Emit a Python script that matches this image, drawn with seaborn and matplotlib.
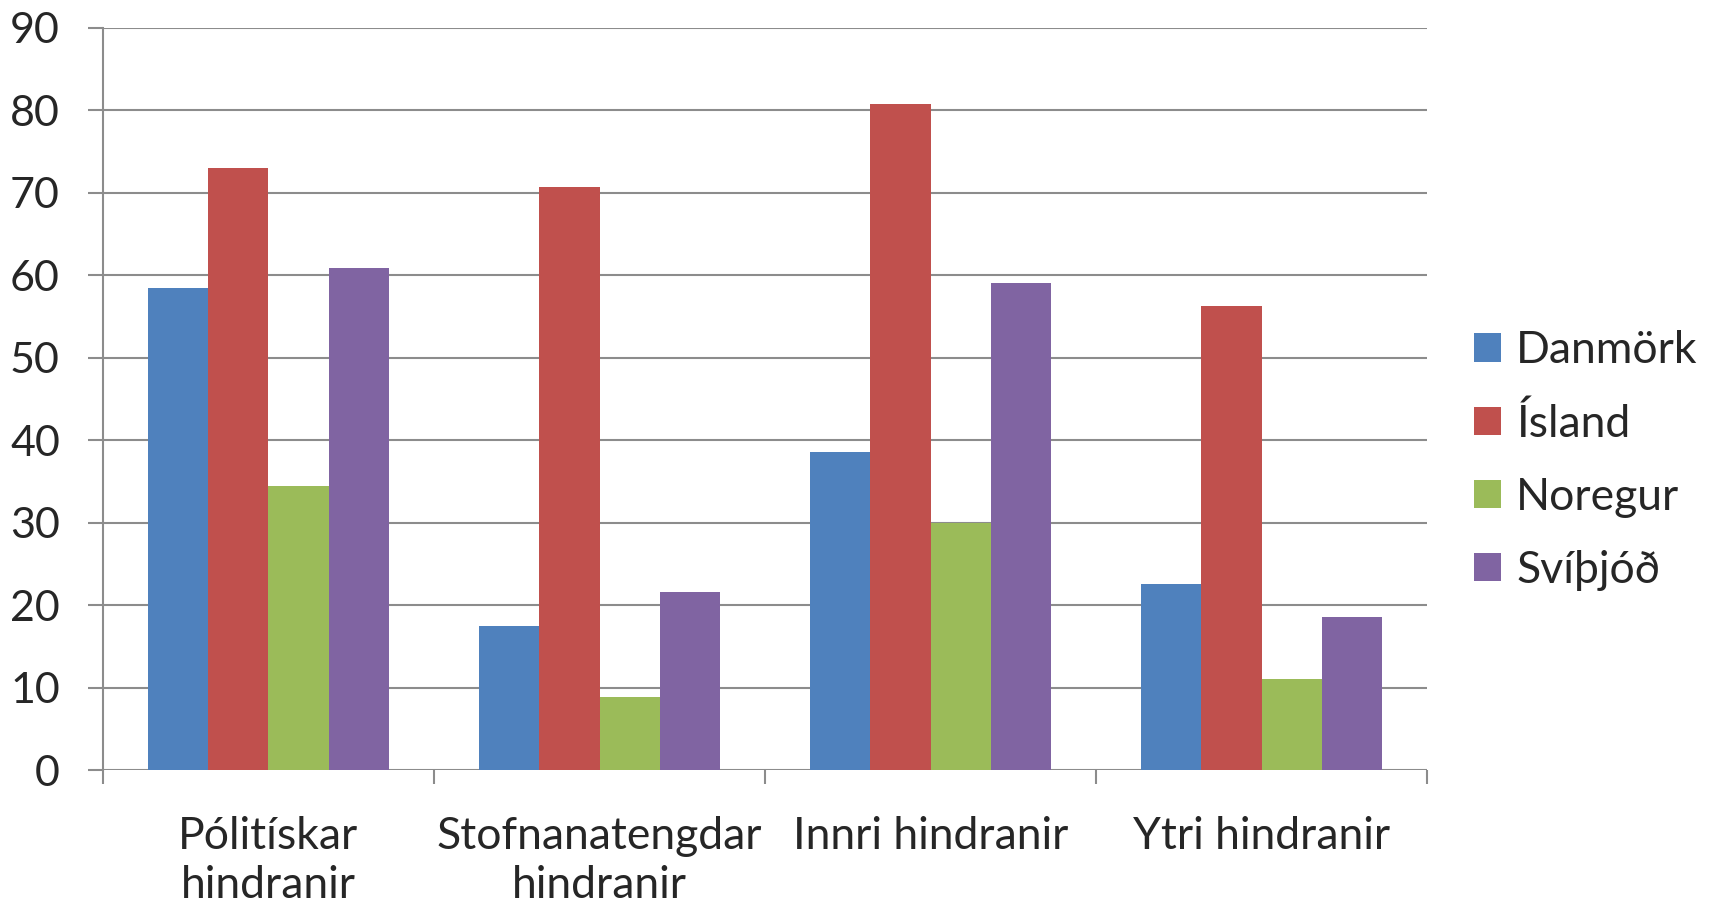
import matplotlib
matplotlib.use("Agg")
import matplotlib.pyplot as plt
import seaborn as sns
import pandas as pd

categories = ["Pólitískar\nhindranir", "Stofnanatengdar\nhindranir", "Innri hindranir", "Ytri hindranir"]
countries = ["Danmörk", "Ísland", "Noregur", "Svíþjóð"]
danmork = [58.5, 17.5, 38.6, 22.6]
island = [73.0, 70.7, 80.8, 56.2]
noregur = [34.4, 8.9, 29.9, 11.0]
svithjod = [60.9, 21.6, 59.0, 18.6]
yticks = [0, 10, 20, 30, 40, 50, 60, 70, 80, 90]
colors = ["#4F81BD", "#C0504D", "#9BBB59", "#8064A2"]

rows = []
for country, vals in zip(countries, [danmork, island, noregur, svithjod]):
    for cat, v in zip(categories, vals):
        rows.append({"category": cat, "country": country, "value": v})
df = pd.DataFrame(rows)

sns.set_theme(style="white")
plt.rcParams["font.family"] = ["Lato", "DejaVu Sans"]

fig = plt.figure(figsize=(17.13, 9.09), dpi=100)
ax = fig.add_axes([0.0601, 0.1529, 0.7730, 0.8166])

grid_c = "#8C8C8C"
for y in yticks:
    ax.axhline(y, color=grid_c, lw=1.5, zorder=0)

sns.barplot(data=df, x="category", y="value", hue="country", order=categories,
            hue_order=countries, palette=colors, width=0.728, gap=0,
            saturation=1, linewidth=0, ax=ax, zorder=2, legend=True)

ax.set_ylim(0, 90)
ax.set_xlim(-0.5, 3.5)
ax.set_yticks(yticks)
ax.set_xlabel("")
ax.set_ylabel("")
for s in ["top", "right", "bottom"]:
    ax.spines[s].set_visible(False)
ax.spines["left"].set_color(grid_c)
ax.spines["left"].set_linewidth(1.5)

fs = 32
ax.tick_params(axis="y", direction="out", length=11, width=1.5, color=grid_c,
               labelsize=31, pad=20, left=True)
ax.set_xticks(range(len(categories)))
ax.set_xticklabels(categories, fontsize=fs, linespacing=1.24)
ax.tick_params(axis="x", which="major", length=0, pad=33)
ax.set_xticks([-0.5, 0.5, 1.5, 2.5, 3.5], minor=True)
ax.tick_params(axis="x", which="minor", direction="out", length=10, width=1.5,
               color=grid_c, bottom=True)

handles, labels = ax.get_legend_handles_labels()
ax.legend(handles, labels, loc="center left", bbox_to_anchor=(0.8605, 0.4934),
          bbox_transform=fig.transFigure, frameon=False, fontsize=fs,
          handlelength=0.6, handleheight=0.6, handletextpad=0.35,
          labelspacing=0.72, borderpad=0, borderaxespad=0)

fig.savefig("out.png", dpi=100, facecolor="white")
